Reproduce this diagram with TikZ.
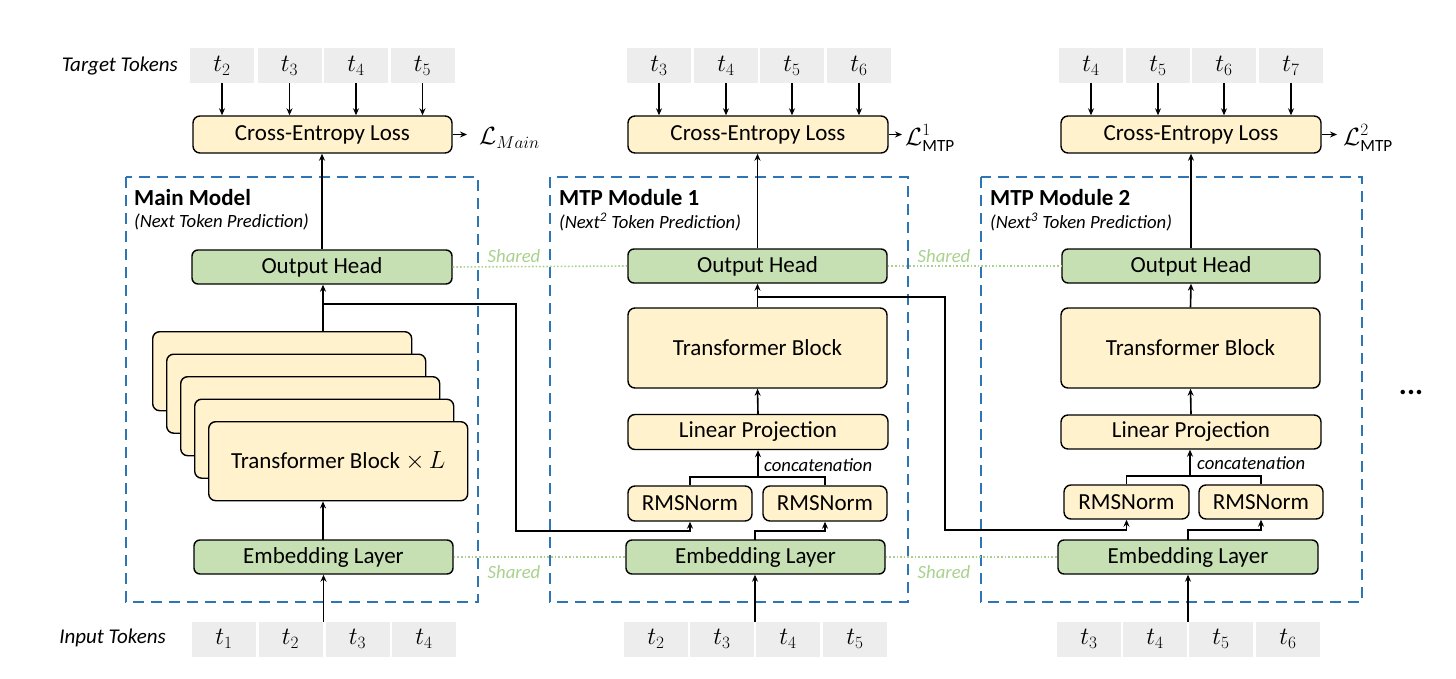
\documentclass[tikz,border=0pt]{standalone}
\usepackage{fontspec}
\setmainfont{Carlito}
\usetikzlibrary{arrows.meta}
\definecolor{yel}{HTML}{FFF2CC}
\definecolor{grn}{HTML}{C6E0B4}
\definecolor{tokg}{HTML}{EDEDED}
\definecolor{dblue}{HTML}{2E75B6}
\definecolor{shg}{HTML}{A9D18E}
\newcommand{\bigf}{\fontsize{23}{27}\selectfont}
\newcommand{\tokf}{\fontsize{24.5}{28}\selectfont}
\newcommand{\midf}{\fontsize{18.7}{22}\selectfont}
\newcommand{\sidef}{\fontsize{21}{25}\selectfont}
\begin{document}
\begin{tikzpicture}[x=1pt,y=-1pt,
  tok/.style={fill=tokg,minimum width=64pt,minimum height=35pt,inner sep=0pt,font=\tokf},
  ybox/.style={draw=black,line width=1.4pt,rounded corners=7pt,fill=yel,inner sep=0pt,font=\bigf},
  gbox/.style={draw=black,line width=1.4pt,rounded corners=6pt,fill=grn,inner sep=0pt,font=\bigf},
  conn/.style={line width=1.6pt,black},
  arr/.style={conn,-{Stealth[length=7pt,width=6pt]}},
  modbox/.style={draw=dblue,line width=2pt,dash pattern=on 11pt off 7pt},
  shline/.style={draw=shg,line width=1.6pt,dotted},
  shlab/.style={text=shg,font=\midf\itshape,inner sep=0pt},
  lab/.style={font=\midf\itshape,inner sep=0pt},
  side/.style={font=\sidef\itshape,inner sep=0pt,anchor=east},
  title/.style={font=\bigf\bfseries,inner sep=0pt,anchor=west},
  sub/.style={font=\midf\itshape,inner sep=0pt,anchor=west}
]
\useasboundingbox (0,0) rectangle (1456,679);

% ---------------- labels at left
\node[side] (tgtlab) at (178,66) {Target Tokens};
\node[side] (inlab) at (166,638) {Input Tokens};

% ---------------- dashed module boxes
\draw[modbox] (126,177) rectangle (478,602);
\draw[modbox] (550,177) rectangle (908,602);
\draw[modbox] (981,177) rectangle (1362,602);

\node[title] (ltitle) at (134,198) {Main Model};
\node[sub] (lsub) at (134,222) {(Next Token Prediction)};
\node[title] (mtitle) at (559,198) {MTP Module 1};
\node[sub] (msub) at (559,222) {(Next\textsuperscript{2} Token Prediction)};
\node[title] (rtitle) at (990,198) {MTP Module 2};
\node[sub] (rsub) at (990,222) {(Next\textsuperscript{3} Token Prediction)};

% ---------------- target tokens
\node[tok] (lt1) at (222,65.5) {$t_2$};
\node[tok] (lt2) at (289.5,65.5) {$t_3$};
\node[tok] (lt3) at (356,65.5) {$t_4$};
\node[tok] (lt4) at (422.5,65.5) {$t_5$};
\node[tok] (mt1) at (659,65.5) {$t_3$};
\node[tok] (mt2) at (726,65.5) {$t_4$};
\node[tok] (mt3) at (792,65.5) {$t_5$};
\node[tok] (mt4) at (859,65.5) {$t_6$};
\node[tok] (rt1) at (1091,65.5) {$t_4$};
\node[tok] (rt2) at (1158,65.5) {$t_5$};
\node[tok] (rt3) at (1224,65.5) {$t_6$};
\node[tok] (rt4) at (1291,65.5) {$t_7$};

% ---------------- cross-entropy
\node[ybox,minimum width=259pt,minimum height=37pt] (lce) at (322.5,134.5) {Cross-Entropy Loss};
\node[ybox,minimum width=260pt,minimum height=37pt] (mce) at (758,134.5) {Cross-Entropy Loss};
\node[ybox,minimum width=260pt,minimum height=37pt] (rce) at (1191,134.5) {Cross-Entropy Loss};

\foreach \t/\c in {lt1/lce,lt2/lce,lt3/lce,lt4/lce,mt1/mce,mt2/mce,mt3/mce,mt4/mce,rt1/rce,rt2/rce,rt3/rce,rt4/rce}{
  \draw[arr] (\t.south) -- (\t.south |- \c.north);
}

\coordinate (lle) at (467,134.5);
\coordinate (mle) at (902,134.5);
\coordinate (rle) at (1337,134.5);
\draw[arr] (lce.east) -- (lle);
\draw[arr] (mce.east) -- (mle);
\draw[arr] (rce.east) -- (rle);
\node[anchor=west,inner sep=0pt,font=\tokf] (llos) at (479,138) {$\mathcal{L}_{Main}$};
\node[anchor=west,inner sep=0pt,font=\tokf] (mlos) at (905,138) {$\mathcal{L}^{1}_{\mathrm{MTP}}$};
\node[anchor=west,inner sep=0pt,font=\tokf] (rlos) at (1343,138) {$\mathcal{L}^{2}_{\mathrm{MTP}}$};

% ---------------- output heads
\node[gbox,minimum width=260pt,minimum height=34pt] (loh) at (322,267) {Output Head};
\node[gbox,minimum width=259pt,minimum height=34pt] (moh) at (757.5,266) {Output Head};
\node[gbox,minimum width=258pt,minimum height=34pt] (roh) at (1191,266) {Output Head};

\draw[arr] (loh.north) -- (loh.north |- lce.south);
\draw[arr] (moh.north) -- (moh.north |- mce.south);
\draw[arr] (roh.north) -- (roh.north |- rce.south);

% shared lines
\draw[shline] (loh.east) -- (moh.west);
\draw[shline] (moh.east) -- (roh.west);
\node[shlab] (sh1) at (514,256) {Shared};
\node[shlab] (sh2) at (944,256) {Shared};

% ---------------- main model stack
\foreach \i in {0,1,2,3}{
  \node[ybox,minimum width=259pt,minimum height=79pt,anchor=north west] (lstk\i) at (152+14*\i,331+22.5*\i) {};
}
\node[ybox,minimum width=259pt,minimum height=79pt,anchor=north west] (lstk4) at (208,421) {Transformer Block $\times\,L$};

% ---------------- embeddings
\node[gbox,minimum width=259pt,minimum height=34pt] (lemb) at (323.5,557) {Embedding Layer};
\node[gbox,minimum width=259pt,minimum height=34pt] (memb) at (755.5,557) {Embedding Layer};
\node[gbox,minimum width=260pt,minimum height=34pt] (remb) at (1188,557) {Embedding Layer};
\draw[shline] (lemb.east) -- (memb.west);
\draw[shline] (memb.east) -- (remb.west);
\node[shlab] (sh3) at (514,572) {Shared};
\node[shlab] (sh4) at (944,572) {Shared};

% main model trunk
\coordinate (lembtop) at (323,540);
\draw[arr] (lembtop) -- (lembtop |- lstk4.south);
\coordinate (lstktop) at (323,331);
\draw[arr] (lstktop) -- (lstktop |- loh.south);

% ---------------- MTP module 1
\node[ybox,minimum width=259pt,minimum height=80pt] (mtb) at (757.5,348) {Transformer Block};
\node[ybox,minimum width=260pt,minimum height=35pt] (mlp) at (758,432) {Linear Projection};
\node[ybox,minimum width=124pt,minimum height=35pt] (mrn1) at (690,503.5) {RMSNorm};
\node[ybox,minimum width=124pt,minimum height=35pt] (mrn2) at (825,503.5) {RMSNorm};
\draw[arr] (mlp.north) -- (mtb.south);
\draw[arr] (mtb.north) -- (moh.south);
\coordinate (mcat) at (758,477);
\draw[conn] (mrn1.north) |- (mcat) -| (mrn2.north);
\draw[arr] (mcat) -- (mlp.south);
\node[lab,anchor=west] (mcatlab) at (764,465) {concatenation};
\coordinate (membtop) at (755,540);
\draw[arr] (membtop) |- (795,531) -| (mrn2.south);

% ---------------- MTP module 2
\node[ybox,minimum width=259pt,minimum height=80pt] (rtb) at (1190.5,348) {Transformer Block};
\node[ybox,minimum width=260pt,minimum height=34pt] (rlp) at (1191,432) {Linear Projection};
\node[ybox,minimum width=125pt,minimum height=34pt] (rrn1) at (1126.5,502) {RMSNorm};
\node[ybox,minimum width=124pt,minimum height=34pt] (rrn2) at (1261,502) {RMSNorm};
\draw[arr] (rlp.north) -- (rtb.south);
\draw[arr] (rtb.north) -- (roh.south);
\coordinate (rcat) at (1190,476);
\draw[conn] (rrn1.north) |- (rcat) -| (rrn2.north);
\draw[arr] (rcat) -- (rcat |- rlp.south);
\node[lab,anchor=west] (rcatlab) at (1197,463) {concatenation};
\coordinate (rembtop) at (1188,540);
\draw[arr] (rembtop) |- (1220,530) -| (rrn2.south);

% ---------------- cross-module branches
\coordinate (lbr) at (323,304);
\draw[arr] (lbr) -- (516,304) -- (516,531) -| (mrn1.south);
\coordinate (mbr) at (758,297);
\draw[arr] (mbr) -- (945,297) -- (945,530) -| (rrn1.south);

% ---------------- input tokens
\node[tok] (li1) at (224,639) {$t_1$};
\node[tok] (li2) at (290.5,639) {$t_2$};
\node[tok] (li3) at (357.5,639) {$t_3$};
\node[tok] (li4) at (424,639) {$t_4$};
\node[tok] (mi1) at (656,639) {$t_2$};
\node[tok] (mi2) at (722,639) {$t_3$};
\node[tok] (mi3) at (788,639) {$t_4$};
\node[tok] (mi4) at (855,639) {$t_5$};
\node[tok] (ri1) at (1089,639) {$t_3$};
\node[tok] (ri2) at (1155,639) {$t_4$};
\node[tok] (ri3) at (1221,639) {$t_5$};
\node[tok] (ri4) at (1288,639) {$t_6$};

\coordinate (lin) at (323.5,622);
\coordinate (min) at (755,622);
\coordinate (rin) at (1188,622);
\draw[arr] (lin) -- (lin |- lemb.south);
\draw[arr] (min) -- (min |- memb.south);
\draw[arr] (rin) -- (rin |- remb.south);

% ellipsis
\node[font=\fontsize{30}{30}\selectfont\bfseries,inner sep=0pt] (dots) at (1411,392) {...};
\end{tikzpicture}
\end{document}
